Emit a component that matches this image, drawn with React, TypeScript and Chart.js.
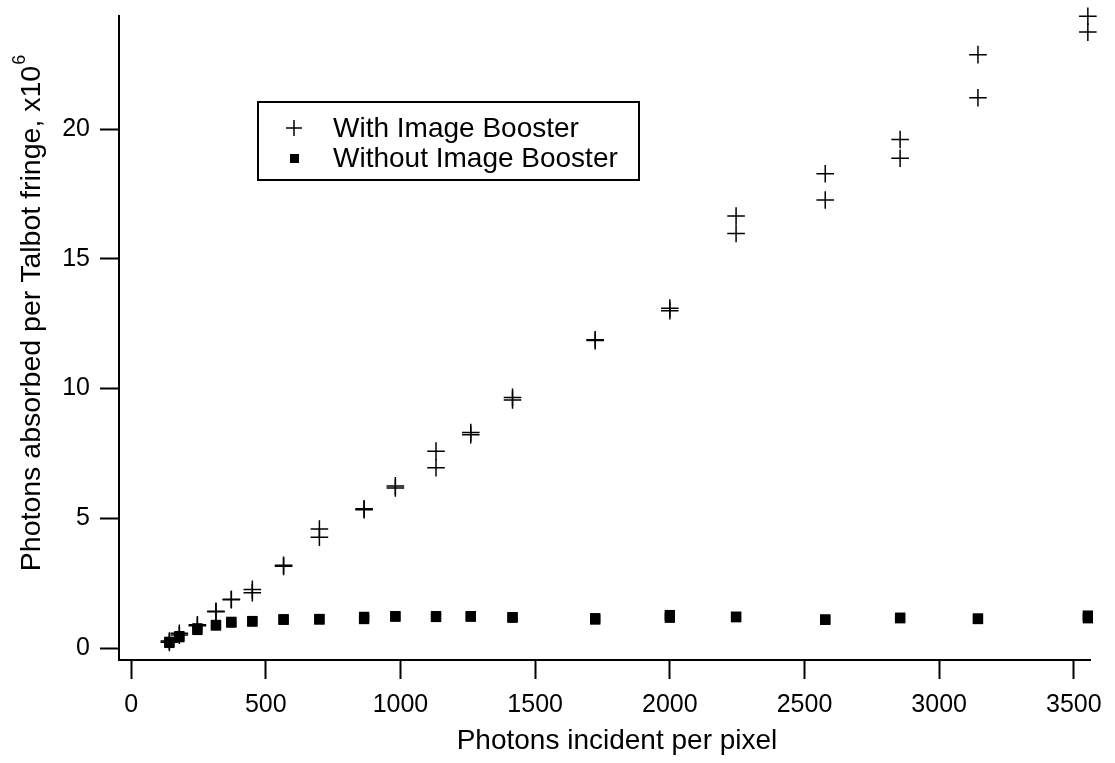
import React, { useEffect, useRef } from 'react';
import { Chart, registerables } from 'chart.js';

Chart.register(...registerables);

// Photons incident per pixel (x positions of each measurement pair)
const incident = [142, 179, 246, 315, 372, 450, 566, 699, 865, 981, 1132, 1261, 1416, 1723, 2000, 2246, 2577, 2855, 3144, 3552];
// With Image Booster (two runs), x10^6
const withRun1 = [0.27, 0.57, 0.90, 1.42, 1.88, 2.26, 3.19, 4.59, 5.37, 6.25, 7.59, 8.31, 9.66, 11.88, 13.10, 16.65, 18.28, 19.60, 22.87, 24.35];
const withRun2 = [0.22, 0.50, 0.86, 1.40, 1.86, 2.13, 3.15, 4.27, 5.33, 6.17, 6.95, 8.22, 9.56, 11.85, 13.00, 15.98, 17.27, 18.88, 21.21, 23.74];
// Without Image Booster (two runs), x10^6
const withoutRun1 = [0.24, 0.46, 0.76, 0.89, 1.01, 1.04, 1.11, 1.12, 1.20, 1.23, 1.23, 1.23, 1.19, 1.15, 1.27, 1.21, 1.10, 1.17, 1.14, 1.25];
const withoutRun2 = [0.20, 0.42, 0.70, 0.87, 0.98, 1.02, 1.09, 1.10, 1.12, 1.21, 1.20, 1.21, 1.17, 1.10, 1.17, 1.19, 1.09, 1.15, 1.12, 1.15];

const xTicks = [0, 500, 1000, 1500, 2000, 2500, 3000, 3500];
const yTicks = [0, 5, 10, 15, 20];

const seriesLabels = ['With Image Booster', 'Without Image Booster'];
const xTitle = 'Photons incident per pixel';
const yTitle = 'Photons absorbed per Talbot fringe, x10';
const yTitleSup = '6';

const FONT = '"Liberation Sans", Arial, Helvetica, sans-serif';

const pairs = (xs: number[], a: number[], b: number[]) =>
  xs.map((x, i) => ({ x, y: a[i] })).concat(xs.map((x, i) => ({ x, y: b[i] })));

const overlayPlugin = {
  id: 'overlay',
  afterDraw(chart: any) {
    const ctx: CanvasRenderingContext2D = chart.ctx;
    ctx.save();
    ctx.fillStyle = '#000';
    ctx.strokeStyle = '#000';
    ctx.textBaseline = 'middle';

    // X title
    ctx.font = `28px ${FONT}`;
    ctx.textAlign = 'center';
    ctx.fillText(xTitle, 617, 741);

    // Y title (rotated) with superscript
    ctx.save();
    ctx.translate(32, 313);
    ctx.rotate(-Math.PI / 2);
    ctx.font = `28.5px ${FONT}`;
    const mainW = ctx.measureText(yTitle).width;
    ctx.font = `18px ${FONT}`;
    const supW = ctx.measureText(yTitleSup).width;
    const total = mainW + supW + 1;
    ctx.textAlign = 'left';
    ctx.font = `28.5px ${FONT}`;
    ctx.fillText(yTitle, -total / 2, 0);
    ctx.font = `18px ${FONT}`;
    ctx.fillText(yTitleSup, -total / 2 + mainW + 1, -12);
    ctx.restore();

    // Legend
    ctx.lineWidth = 2;
    ctx.strokeRect(258, 102, 381, 78);
    ctx.lineWidth = 1.5;
    ctx.beginPath();
    ctx.moveTo(286, 128); ctx.lineTo(302, 128);
    ctx.moveTo(294, 120); ctx.lineTo(294, 136);
    ctx.stroke();
    ctx.fillRect(290, 154, 9, 9);
    ctx.font = `28px ${FONT}`;
    ctx.textAlign = 'left';
    ctx.fillText(seriesLabels[0], 333, 129);
    ctx.fillText(seriesLabels[1], 333, 159);
    ctx.restore();
  },
};

export default function App() {
  const ref = useRef<HTMLCanvasElement | null>(null);

  useEffect(() => {
    if (!ref.current) return;
    const chart = new Chart(ref.current, {
      type: 'scatter',
      data: {
        datasets: [
          {
            label: seriesLabels[0],
            data: pairs(incident, withRun1, withRun2),
            pointStyle: 'cross',
            pointRadius: 8.8,
            pointBorderWidth: 1.5,
            borderColor: '#000',
            backgroundColor: '#000',
            clip: false,
          } as any,
          {
            label: seriesLabels[1],
            data: pairs(incident, withoutRun1, withoutRun2),
            pointStyle: 'rect',
            pointRadius: 7.3,
            pointBorderWidth: 0,
            borderColor: '#000',
            backgroundColor: '#000',
            clip: false,
          } as any,
        ],
      },
      options: {
        responsive: false,
        animation: false,
        devicePixelRatio: 1,
        layout: { padding: { left: 0, top: 16, right: 25, bottom: 0 } },
        plugins: {
          legend: { display: false },
          tooltip: { enabled: false },
        },
        scales: {
          x: {
            type: 'linear',
            min: -45,
            max: 3560,
            afterFit: (s: any) => { s.height = 103; s.paddingLeft = 0; s.paddingRight = 0; },
            afterBuildTicks: (s: any) => { s.ticks = xTicks.map((v) => ({ value: v })); },
            border: { display: true, color: '#000', width: 2 },
            grid: { display: true, drawOnChartArea: false, drawTicks: true, tickLength: 19, tickWidth: 2, tickColor: '#000', color: '#000' },
            ticks: { color: '#000', padding: 11, maxRotation: 0, autoSkip: false, font: { family: FONT, size: 25 }, callback: (v: any) => String(v) },
            title: { display: false },
          },
          y: {
            type: 'linear',
            min: -0.46,
            max: 24.36,
            afterFit: (s: any) => { s.width = 119; s.paddingTop = 0; s.paddingBottom = 0; },
            afterBuildTicks: (s: any) => { s.ticks = yTicks.map((v) => ({ value: v })); },
            border: { display: true, color: '#000', width: 2 },
            grid: { display: true, drawOnChartArea: false, drawTicks: true, tickLength: 19, tickWidth: 2, tickColor: '#000', color: '#000' },
            ticks: { color: '#000', padding: 10, autoSkip: false, font: { family: FONT, size: 25 }, callback: (v: any) => String(v) },
            title: { display: false },
          },
        },
      },
      plugins: [overlayPlugin],
    });
    return () => chart.destroy();
  }, []);

  return (
    <div style={{ position: 'absolute', left: 0, top: 0, width: 1115, height: 763, background: '#fff' }}>
      <canvas ref={ref} width={1115} height={763} style={{ width: 1115, height: 763, display: 'block' }} />
    </div>
  );
}
